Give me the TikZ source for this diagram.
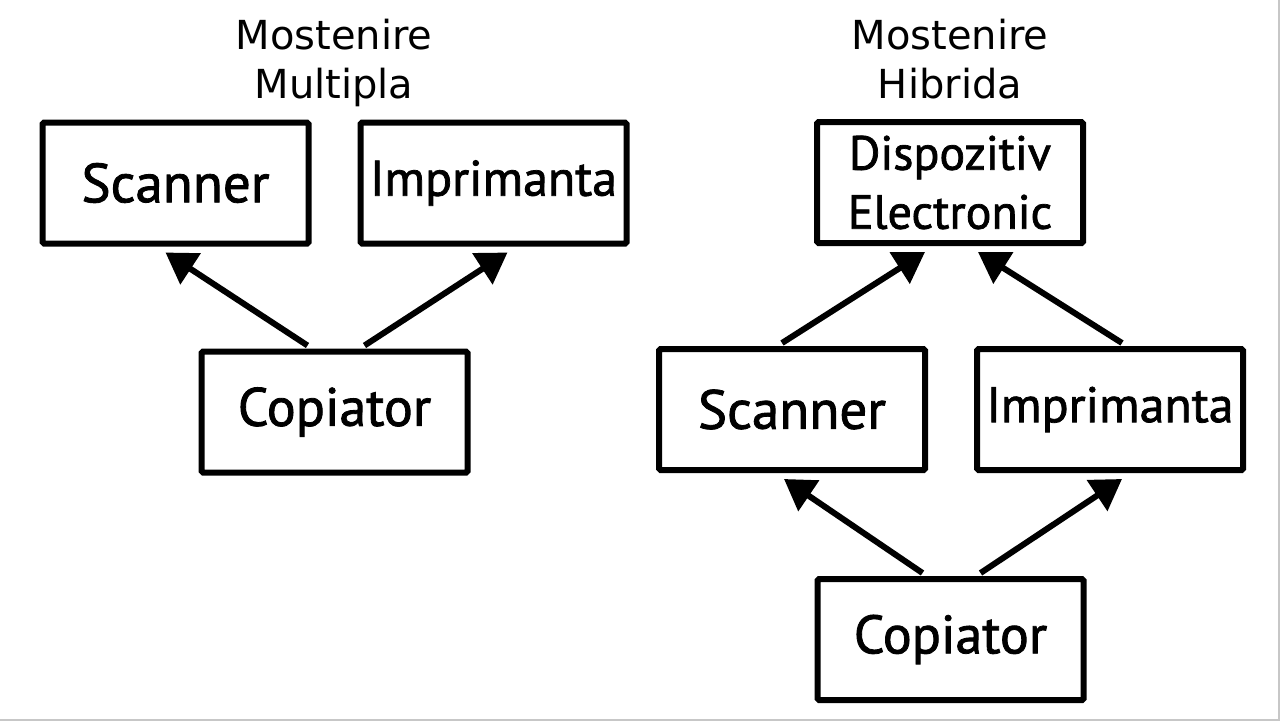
\documentclass[tikz,border=0pt]{standalone}
\usepackage{fontspec}
\setmainfont{DejaVu Sans}
\newfontfamily\boxfont{PT Sans}[FakeBold=1.5]
\usetikzlibrary{arrows.meta,calc}
\tikzset{
  box/.style={draw=black, line width=6pt, rounded corners=1.5pt, minimum width=266pt, minimum height=121pt, inner sep=0pt, align=center,
    font=\boxfont\fontsize{50}{61}\selectfont},
  title/.style={align=center, inner sep=0pt, anchor=north, font=\fontsize{40}{49}\selectfont},
  link/.style={line width=6pt, -{Triangle[length=30pt,width=36pt]}},
}
\begin{document}
\begin{tikzpicture}[x=1pt,y=-1pt]
\useasboundingbox (0,0) rectangle (1280,721);
\fill[white] (0,0) rectangle (1280,721);
\draw[line width=1.5pt, black!22] (0,720.2) -- (1279.2,720.2) -- (1279.2,0);
% left: multiple inheritance
\node[title] (t1) at (334,19) {Mostenire\\Multipla};
\node[box, font=\boxfont\fontsize{55}{61}\selectfont] (s1) at (175.5,183) {Scanner};
\node[box] (i1) at (493.5,183) {Imprimanta};
\node[box, font=\boxfont\fontsize{54}{61}\selectfont] (c1) at (334.5,412) {Copiator};
\draw[link] ($(c1.north)+(-27,-3)$) -- ($(s1.south)+(-10,6)$);
\draw[link] ($(c1.north)+(30,-3)$) -- ($(i1.south)+(14,6)$);
% right: hybrid inheritance
\node[title] (t2) at (950,19) {Mostenire\\Hibrida};
\node[box, font=\boxfont\fontsize{48}{59}\selectfont] (d2) at (950,182.5) {Dispozitiv\\Electronic};
\node[box, font=\boxfont\fontsize{55}{61}\selectfont] (s2) at (792,409.5) {Scanner};
\node[box] (i2) at (1110,409.5) {Imprimanta};
\node[box, font=\boxfont\fontsize{54}{61}\selectfont] (c2) at (950.5,639.5) {Copiator};
\draw[link] ($(s2.north)+(-10,-3)$) -- ($(d2.south)+(-25,6)$);
\draw[link] ($(i2.north)+(12,-3)$) -- ($(d2.south)+(28,6)$);
\draw[link] ($(c2.north)+(-28,-3)$) -- ($(s2.south)+(-8,6)$);
\draw[link] ($(c2.north)+(30,-3)$) -- ($(i2.south)+(12,6)$);
\end{tikzpicture}
\end{document}
